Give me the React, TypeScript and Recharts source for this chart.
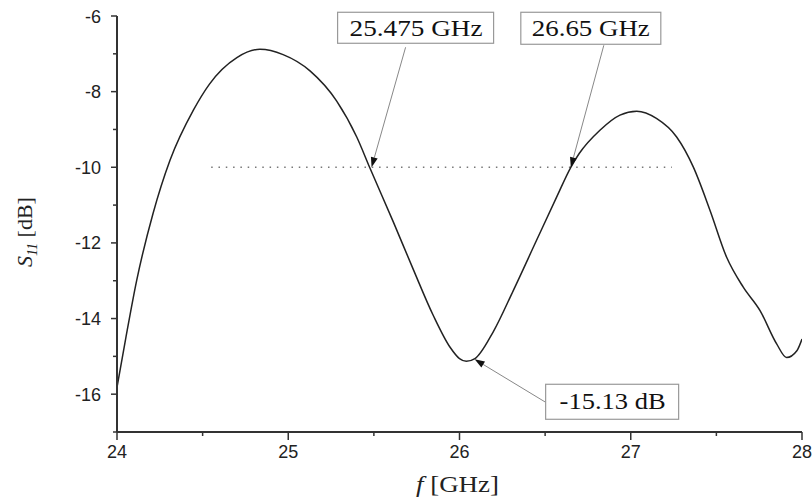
import { LineChart, Line, XAxis, YAxis, ReferenceLine, ReferenceDot, Label } from 'recharts';

// S11 curve
const freqGHz = [
  24.0, 24.05, 24.115, 24.21, 24.31, 24.446, 24.54, 24.7, 24.835, 24.97, 25.127, 25.283, 25.4, 25.475,
  25.614, 25.73, 25.847, 25.945, 26.0, 26.04, 26.09, 26.197, 26.314, 26.45, 26.567, 26.65, 26.7, 26.82, 26.937,
  27.035, 27.15, 27.268, 27.365, 27.463, 27.56, 27.657, 27.755, 27.852, 27.91, 27.97, 28.0,
];
const s11dB = [
  -15.82, -14.55, -12.99, -11.23, -9.81, -8.49, -7.8, -7.1, -6.88, -7.02, -7.45, -8.25, -9.2, -10.0,
  -11.45, -12.7, -13.92, -14.76, -15.06, -15.13, -15.06, -14.35, -13.26, -11.93, -10.79, -10.0, -9.63, -9.02, -8.62,
  -8.52, -8.71, -9.2, -9.99, -11.14, -12.38, -13.17, -13.79, -14.67, -15.03, -14.85, -14.54,
];

const xTicks = [24, 24.5, 25, 25.5, 26, 26.5, 27, 27.5, 28];
const yTicks = [-17, -16, -15, -14, -13, -12, -11, -10, -9, -8, -7, -6];

const bandStart = 24.55;
const bandEnd = 27.24;
const bandLevel = -10;

const calloutText = ['25.475 GHz', '26.65 GHz', '-15.13 dB'];
const calloutX = [25.475, 26.65, 26.03];
const calloutY = [-10, -10, -15.13];

const data = freqGHz.map((f, i) => ({ f, s11: s11dB[i] }));

const serif = '"Liberation Serif", "Times New Roman", serif';
const sans = '"Liberation Sans", Arial, sans-serif';

// box / arrow placement relative to the target point, in px
const calloutLayout = [
  { tip: [2, 0], start: [36, -120], box: [-32, -155, 156, 31], text: [46.5, -131, 133] },
  { tip: [0, 0], start: [33, -122], box: [-50, -155, 140, 32], text: [20, -131, 118] },
  { tip: [10, -2], start: [81, 41], box: [81, 23, 133, 35], text: [148, 48, 106] },
];

function YTick(props: any) {
  const { x, y, payload } = props;
  const v = payload.value;
  const major = v % 2 === 0;
  return (
    <g>
      <line x1={x - (major ? 6 : 4)} x2={x} y1={y} y2={y} stroke="#333" strokeWidth={1.5} />
      {major && (
        <text x={x - 16} y={y + 6.5} textAnchor="end" fontFamily={sans} fontSize={18} fill="#222">
          {v}
        </text>
      )}
    </g>
  );
}

function XTick(props: any) {
  const { x, y, payload } = props;
  const v = payload.value;
  const major = Number.isInteger(v);
  return (
    <g>
      <line x1={x} x2={x} y1={y} y2={y + (major ? 8 : 4)} stroke="#333" strokeWidth={1.5} />
      {major && (
        <text x={x} y={y + 26} textAnchor="middle" fontFamily={sans} fontSize={18} fill="#222">
          {v}
        </text>
      )}
    </g>
  );
}

function makeCallout(idx: number) {
  const lay = calloutLayout[idx];
  return (props: any) => {
    const { cx, cy } = props;
    const tx = cx + lay.tip[0];
    const ty = cy + lay.tip[1];
    const sx = cx + lay.start[0];
    const sy = cy + lay.start[1];
    const dx = tx - sx;
    const dy = ty - sy;
    const len = Math.sqrt(dx * dx + dy * dy);
    const ux = dx / len;
    const uy = dy / len;
    const headL = 10;
    const headW = 3.5;
    const bx = tx - ux * headL;
    const by = ty - uy * headL;
    const [bl, bt, bw, bh] = lay.box;
    const [tcx, tby, tw] = lay.text;
    return (
      <g>
        <line x1={sx} y1={sy} x2={bx} y2={by} stroke="#888" strokeWidth={1} />
        <polygon
          points={`${tx},${ty} ${bx - uy * headW},${by + ux * headW} ${bx + uy * headW},${by - ux * headW}`}
          fill="#111"
        />
        <rect x={cx + bl} y={cy + bt} width={bw} height={bh} fill="#fff" stroke="#999" strokeWidth={1.2} />
        <text
          x={cx + tcx}
          y={cy + tby}
          textAnchor="middle"
          fontFamily={serif}
          fontSize={23}
          fill="#111"
          textLength={tw}
          lengthAdjust="spacingAndGlyphs"
        >
          {calloutText[idx]}
        </text>
      </g>
    );
  };
}

function YLabel(props: any) {
  const vb = props.viewBox;
  const x = 32;
  const y = vb.y + vb.height / 2 + 8;
  return (
    <text x={x} y={y} transform={`rotate(-90 ${x} ${y})`} textAnchor="middle" fontFamily={serif} fontSize={22} fill="#222">
      <tspan fontStyle="italic">S</tspan>
      <tspan fontStyle="italic" fontSize={14} dy={5}>11</tspan>
      <tspan dy={-5}> [dB]</tspan>
    </text>
  );
}

function XLabel(props: any) {
  const vb = props.viewBox;
  const x = vb.x + vb.width / 2 - 2;
  return (
    <text x={x} y={492} textAnchor="middle" fontFamily={serif} fontSize={23} fill="#222" textLength={83} lengthAdjust="spacingAndGlyphs">
      <tspan fontStyle="italic">f</tspan>
      <tspan> [GHz]</tspan>
    </text>
  );
}

export default function App() {
  return (
    <div style={{ position: 'absolute', left: 0, top: 0, background: '#fff' }}>
      <LineChart width={812} height={500} data={data} margin={{ top: 16, right: 10, bottom: 38, left: 57 }}>
        <XAxis
          dataKey="f"
          type="number"
          domain={[24, 28]}
          ticks={xTicks}
          interval={0}
          height={30}
          tickSize={0}
          tickMargin={0}
          tickLine={false}
          tick={XTick}
          axisLine={{ stroke: '#333', strokeWidth: 2 }}
          allowDataOverflow
        >
          <Label content={XLabel} />
        </XAxis>
        <YAxis
          type="number"
          domain={[-17, -6]}
          ticks={yTicks}
          interval={0}
          width={60}
          tickSize={0}
          tickMargin={0}
          tickLine={false}
          tick={YTick}
          axisLine={{ stroke: '#333', strokeWidth: 2 }}
          allowDataOverflow
        >
          <Label content={YLabel} />
        </YAxis>
        <ReferenceLine
          segment={[
            { x: bandStart, y: bandLevel },
            { x: bandEnd, y: bandLevel },
          ]}
          stroke="#777"
          strokeWidth={1.5}
          strokeDasharray="1.5 5.8"
        />
        <Line
          type="monotone"
          dataKey="s11"
          stroke="#222"
          strokeWidth={1.5}
          dot={false}
          isAnimationActive={false}
        />
        {calloutText.map((t, i) => (
          <ReferenceDot key={t} x={calloutX[i]} y={calloutY[i]} r={0} shape={makeCallout(i)} />
        ))}
      </LineChart>
    </div>
  );
}
